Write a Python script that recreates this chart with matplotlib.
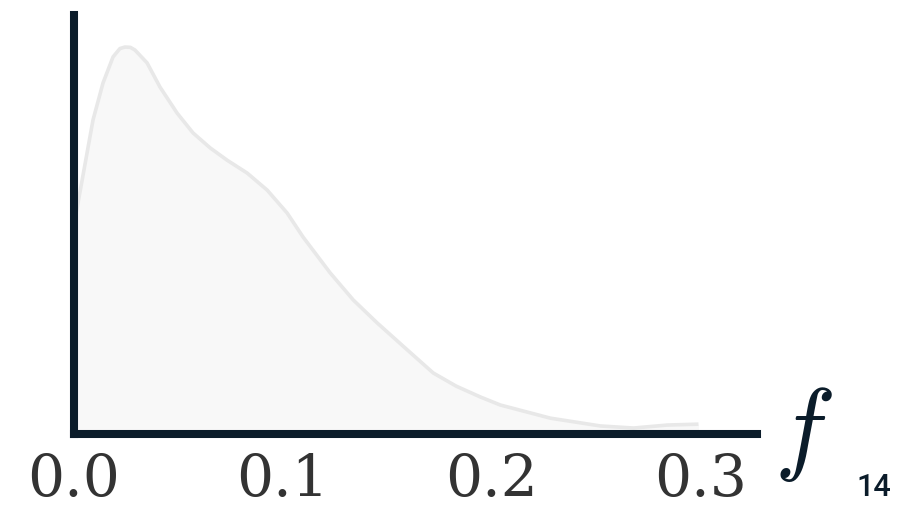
import numpy as np
import matplotlib.pyplot as plt

# density estimate of f (read off as x / density pairs)
f_vals = [0.0, 0.0091, 0.0139, 0.0187, 0.0220, 0.0244, 0.0270, 0.0292, 0.0350,
          0.0412, 0.0494, 0.0570, 0.0652, 0.0733, 0.0829, 0.0925, 0.1021, 0.1097,
          0.1227, 0.1337, 0.1452, 0.1596, 0.1720, 0.1830, 0.1945, 0.2041, 0.2281,
          0.2520, 0.2679, 0.2841, 0.2990]
density = [6.98, 10.49, 11.73, 12.60, 12.88, 12.93, 12.92, 12.83, 12.40,
           11.59, 10.72, 10.06, 9.56, 9.15, 8.72, 8.15, 7.38, 6.58,
           5.38, 4.48, 3.71, 2.81, 2.04, 1.60, 1.24, 0.97, 0.53,
           0.27, 0.20, 0.30, 0.33]
xticks = [0.0, 0.1, 0.2, 0.3]
xlabels = ['0.0', '0.1', '0.2', '0.3']

navy = '#0b1c2a'

fig = plt.figure(figsize=(8.99, 5.09), dpi=100)
ax = fig.add_axes([0.0823, 0.1473, 0.842 - 0.0823, 0.9705 - 0.1473])

ax.fill_between(f_vals, density, 0, color='#f8f8f8', linewidth=0, zorder=1)
ax.plot(f_vals, density, color='#e8e8e8', linewidth=2.6,
        solid_capstyle='butt', solid_joinstyle='round', zorder=2)

ax.set_xlim(0, 0.327)
ax.set_ylim(0, 14)

for side in ['top', 'right']:
    ax.spines[side].set_visible(False)
for side in ['left', 'bottom']:
    ax.spines[side].set_color(navy)
    ax.spines[side].set_linewidth(5.8)
    ax.spines[side].set_zorder(3)

ax.set_yticks([])
ax.set_xticks(xticks)
ax.set_xticklabels(xlabels, family='DejaVu Serif', fontsize=42, color='#333333')
ax.tick_params(axis='x', length=0, pad=13)

fig.text(803 / 899, 1 - 434 / 509, r'$f$', fontsize=74, color=navy,
         ha='center', va='center', math_fontfamily='cm')
fig.text(874 / 899, 1 - 488 / 509, '14', fontsize=22, color=navy,
         family='Roboto', fontweight='medium', ha='center', va='center')

fig.savefig('out.png', dpi=100)
